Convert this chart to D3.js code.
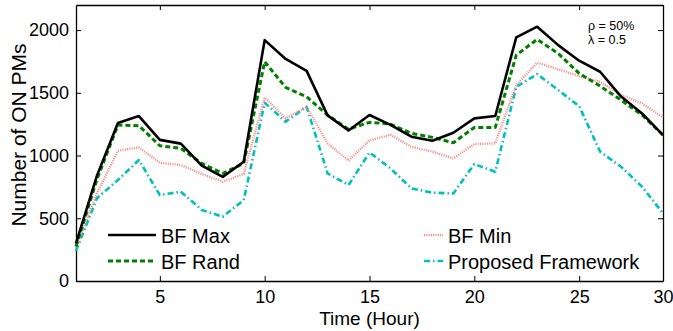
<!DOCTYPE html>
<html>
<head>
<meta charset="utf-8">
<script src="https://cdn.jsdelivr.net/npm/d3@7"></script>
<style>
  body { margin: 0; background: #fff; }
  svg { display: block; font-family: "Liberation Sans", Arial, sans-serif; }
</style>
</head>
<body>
<div id="chart"></div>
<script>
// hours on the x axis
const hours = [1, 2, 3, 4, 5, 6, 7, 8, 9, 10, 11, 12, 13, 14, 15, 16, 17, 18, 19, 20, 21, 22, 23, 24, 25, 26, 27, 28, 29];

const bfMax = [300, 840, 1260, 1315, 1125, 1095, 920, 830, 950, 1920, 1770, 1675, 1320, 1200, 1323, 1245, 1150, 1118, 1182, 1296, 1315, 1942, 2027, 1880, 1756, 1668, 1470, 1336, 1163];
const bfRand = [275, 810, 1243, 1238, 1078, 1057, 937, 858, 937, 1748, 1543, 1469, 1323, 1210, 1265, 1251, 1177, 1145, 1102, 1224, 1224, 1801, 1926, 1814, 1655, 1554, 1442, 1323, 1163];
const bfMin = [265, 700, 1038, 1065, 943, 924, 853, 791, 853, 1463, 1296, 1389, 1097, 960, 1120, 1165, 1070, 1031, 977, 1092, 1097, 1562, 1740, 1687, 1633, 1588, 1482, 1416, 1304];
const proposed = [240, 660, 805, 964, 685, 712, 566, 513, 645, 1421, 1270, 1389, 858, 765, 1025, 898, 738, 704, 698, 932, 871, 1548, 1649, 1522, 1394, 1031, 911, 752, 539];

const xTickValues = [5, 10, 15, 20, 25, 29];
const xTickLabels = ['5', '10', '15', '20', '25', '30'];
const yTickValues = [0, 500, 1000, 1500, 2000];

const width = 673, height = 331;
const margin = { top: 5, right: 10, bottom: 50, left: 76 };
const innerWidth = width - margin.left - margin.right;
const innerHeight = height - margin.top - margin.bottom;

const svg = d3.select('#chart').append('svg')
    .attr('width', width)
    .attr('height', height);

const chart = svg.append('g')
    .attr('transform', `translate(${margin.left}, ${margin.top})`);

const xScale = d3.scaleLinear()
    .domain([1, 29])
    .range([0, innerWidth]);

const yScale = d3.scaleLinear()
    .domain([0, 2200])
    .range([innerHeight, 0]);

// axes, ticks pointing inward (matlab style box)
const xAxis = d3.axisBottom(xScale)
    .tickValues(xTickValues)
    .tickFormat((d, i) => xTickLabels[i])
    .tickSizeInner(-5)
    .tickSizeOuter(0)
    .tickPadding(9);

const xG = chart.append('g')
    .attr('transform', `translate(0, ${innerHeight})`)
    .call(xAxis);

const xTop = chart.append('g')
    .call(d3.axisTop(xScale).tickValues(xTickValues).tickSizeInner(-5).tickSizeOuter(0));

const yAxis = d3.axisLeft(yScale)
    .tickValues(yTickValues)
    .tickFormat(d3.format('d'))
    .tickSizeInner(-5)
    .tickSizeOuter(0)
    .tickPadding(7);

const yG = chart.append('g').call(yAxis);

const yRight = chart.append('g')
    .attr('transform', `translate(${innerWidth}, 0)`)
    .call(d3.axisRight(yScale).tickValues(yTickValues).tickSizeInner(-5).tickSizeOuter(0));

// mirrored axes only carry tick marks
xTop.selectAll('.tick text').remove();
yRight.selectAll('.tick text').remove();

[xG, xTop, yG, yRight].forEach(g => {
    g.attr('font-size', 18)
        .attr('font-family', '"Liberation Sans", Arial, sans-serif');
    g.select('.domain').attr('stroke', '#000').attr('stroke-width', 1.3);
    g.selectAll('.tick line').attr('stroke', '#000');
    g.selectAll('.tick text').attr('fill', '#000');
});

const series = [
    { name: 'BF Max', values: bfMax, color: '#000000', dash: null, width: 2.6 },
    { name: 'BF Rand', values: bfRand, color: '#008000', dash: '5,3', width: 3 },
    { name: 'BF Min', values: bfMin, color: '#ff8080', dash: '1,1.3', width: 2.4 },
    { name: 'Proposed Framework', values: proposed, color: '#00bfbf', dash: '6,3,1.5,3', width: 2.6 }
];

const line = d3.line()
    .x((d, i) => xScale(hours[i]))
    .y(d => yScale(d));

// draw back to front so the black line stays on top
series.slice().reverse().forEach(s => {
    chart.append('path')
        .datum(s.values)
        .attr('fill', 'none')
        .attr('stroke', s.color)
        .attr('stroke-width', s.width)
        .attr('stroke-dasharray', s.dash)
        .attr('stroke-linejoin', 'round')
        .attr('d', line);
});

// legend, two columns
const legendPos = [
    { x: 108, y: 235, len: 48 },
    { x: 108, y: 261, len: 48 },
    { x: 424, y: 235, len: 19 },
    { x: 424, y: 261, len: 19 }
];

series.forEach((s, i) => {
    const p = legendPos[i];
    const g = svg.append('g');
    g.append('line')
        .attr('x1', p.x).attr('x2', p.x + p.len)
        .attr('y1', p.y).attr('y2', p.y)
        .attr('stroke', s.color)
        .attr('stroke-width', s.width)
        .attr('stroke-dasharray', s.dash);
    g.append('text')
        .attr('x', p.x + p.len + 5)
        .attr('y', p.y + 8)
        .style('font-size', '20px')
        .text(s.name);
});

// annotation
svg.append('text')
    .attr('x', 588).attr('y', 30)
    .style('font-size', '12.5px')
    .text('ρ = 50%');
svg.append('text')
    .attr('x', 588).attr('y', 44)
    .style('font-size', '12.5px')
    .text('λ = 0.5');

// axis titles
svg.append('text')
    .attr('x', margin.left + innerWidth / 2)
    .attr('y', 325)
    .attr('text-anchor', 'middle')
    .style('font-size', '19px')
    .text('Time (Hour)');

svg.append('text')
    .attr('transform', `translate(26, ${margin.top + innerHeight / 2 - 8}) rotate(-90)`)
    .attr('text-anchor', 'middle')
    .style('font-size', '21px')
    .text('Number of ON PMs');
</script>
</body>
</html>
